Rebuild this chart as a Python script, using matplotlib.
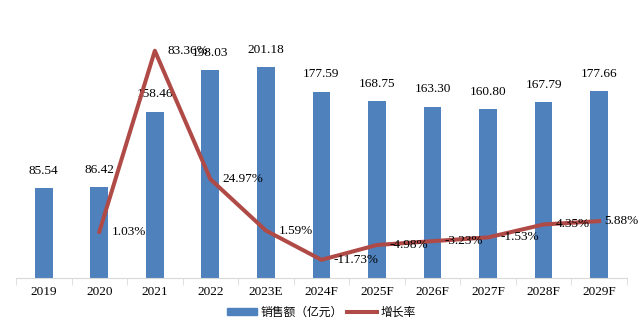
import numpy as np
import matplotlib
matplotlib.use("Agg")
import matplotlib.pyplot as plt
from matplotlib.patches import Patch
from matplotlib.lines import Line2D

# data
years = ["2019", "2020", "2021", "2022", "2023E", "2024F", "2025F",
         "2026F", "2027F", "2028F", "2029F"]
sales = [85.54, 86.42, 158.46, 198.03, 201.18, 177.59, 168.75,
         163.30, 160.80, 167.79, 177.66]
growth_years = years[1:]
growth = [1.03, 83.36, 24.97, 1.59, -11.73, -4.98, -3.23, -1.53, 4.35, 5.88]

bar_color = "#4F81BD"
line_color = "#B04A47"
num_font = "Liberation Serif"

fig = plt.figure(figsize=(6.43, 3.27), dpi=100)
ax = fig.add_axes([0.0249, 0.1498, 0.950, 0.835])

x = np.arange(len(years))
ax.bar(x, sales, width=0.32, color=bar_color, zorder=2)
for xi, v in zip(x, sales):
    ax.annotate(f"{v:.2f}", (xi, v), xytext=(0, 8), textcoords="offset points",
                ha="center", va="bottom", fontsize=9.5, family=num_font)

ax.set_xlim(-0.5, len(years) - 0.5)
ax.set_ylim(0, 260)
ax.set_yticks([])
for s in ["top", "right", "left"]:
    ax.spines[s].set_visible(False)
ax.spines["bottom"].set_color("#D9D9D9")
ax.set_xticks(x)
ax.set_xticklabels(years, fontsize=9.5, family=num_font)
ax.tick_params(axis="x", length=0, pad=6)
ax.set_xticks(np.arange(-0.5, len(years)), minor=True)
ax.tick_params(axis="x", which="minor", length=5, color="#D9D9D9")

ax2 = ax.twinx()
gx = x[1:]
ax2.plot(gx, growth, color=line_color, linewidth=2.9, zorder=3,
         solid_joinstyle="round")
ax2.set_ylim(-20, 104.2)
ax2.axis("off")
for i, (xi, v) in enumerate(zip(gx, growth)):
    # last label is squeezed against the right edge, as in the original
    dx = 4 if i == len(growth) - 1 else 9
    ax2.annotate(f"{v:.2f}%", (xi, v), xytext=(dx, 0), textcoords="offset points",
                 ha="left", va="center", fontsize=9.5, family=num_font)

handles = [Patch(color=bar_color), Line2D([0], [0], color=line_color, linewidth=2.9)]
fig.legend(handles, ["销售额（亿元）", "增长率"], loc="center", bbox_to_anchor=(0.5, 0.045),
           ncol=2, frameon=False, handlelength=2.6, handleheight=0.6,
           columnspacing=0.3, handletextpad=0.3,
           prop={"family": ["Noto Sans CJK SC", "DejaVu Sans"], "size": 8.5})

fig.savefig("out.png", dpi=100)
